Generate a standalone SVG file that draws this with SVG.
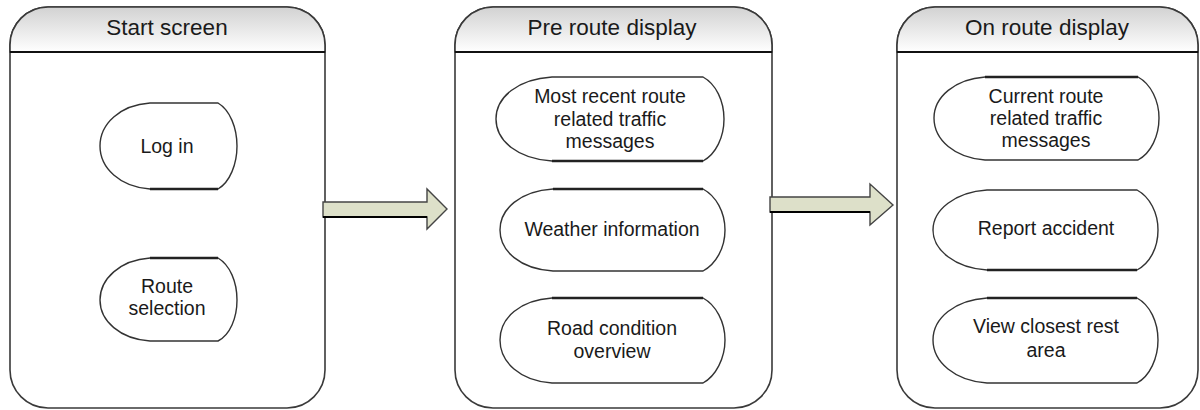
<svg xmlns="http://www.w3.org/2000/svg" width="1200" height="410" viewBox="0 0 1200 410">
<defs>
<linearGradient id="hdr" x1="0" y1="0" x2="0" y2="1">
<stop offset="0" stop-color="#d2d2d2"/>
<stop offset="1" stop-color="#ffffff"/>
</linearGradient>
</defs>
<style>
.panel{fill:#ffffff;stroke:#3a3a3a;stroke-width:1.6}
.hdr{fill:url(#hdr);stroke:#3a3a3a;stroke-width:1.6}
.hline{stroke:#111111;stroke-width:2.2}
.node{fill:#ffffff;stroke:#333333;stroke-width:1.4}
.flat{stroke:#222222;stroke-width:2.4}
.title{font-family:"Liberation Sans",Arial,sans-serif;font-size:22.5px;fill:#1a1a1a;text-anchor:middle}
.lbl{font-family:"Liberation Sans",Arial,sans-serif;font-size:19.5px;fill:#1a1a1a;text-anchor:middle}
.arrow{fill:#dde0c9;stroke:#444444;stroke-width:1.4;stroke-linejoin:miter}
</style>
<rect width="1200" height="410" fill="#ffffff"/>

<g id="start-screen">
<path class="panel" d="M10,45 A38,38 0 0 1 48,7 L287,7 A38,38 0 0 1 325,45 L325,370 A38,38 0 0 1 287,408 L48,408 A38,38 0 0 1 10,370 Z"/>
<path class="hdr" d="M10,52 L10,45 A38,38 0 0 1 48,7 L287,7 A38,38 0 0 1 325,45 L325,52 Z"/>
<line class="hline" x1="10" y1="52" x2="325" y2="52"/>
<text class="title" x="167" y="35">Start screen</text>
</g>

<g id="log-in">
<path class="node" d="M150,103 L218,103 C230,110 237,128 237,146 C237,164 230,182 218,189 L150,189 C120,187 100,168 100,146 C100,124 120,105 150,103 Z"/>
<line class="flat" x1="150" y1="189" x2="218" y2="189"/>
<text class="lbl" x="167" y="153">Log in</text>
</g>

<g id="route-selection">
<path class="node" d="M150,258 L218,258 C230,265 237,282 237,300 C237,318 230,335 218,341 L150,341 C120,339 100,321 100,300 C100,279 120,260 150,258 Z"/>
<line class="flat" x1="150" y1="258" x2="218" y2="258"/>
<text class="lbl" x="167" y="293">Route</text>
<text class="lbl" x="167" y="315">selection</text>
</g>

<g id="pre-route-display">
<path class="panel" d="M455,45 A38,38 0 0 1 493,7 L734,7 A38,38 0 0 1 772,45 L772,370 A38,38 0 0 1 734,408 L493,408 A38,38 0 0 1 455,370 Z"/>
<path class="hdr" d="M455,52 L455,45 A38,38 0 0 1 493,7 L734,7 A38,38 0 0 1 772,45 L772,52 Z"/>
<line class="hline" x1="455" y1="52" x2="772" y2="52"/>
<text class="title" x="612" y="35">Pre route display</text>
</g>

<g id="recent-traffic">
<path class="node" d="M552,77 L703,77 C716,84 724,101 724,119 C724,137 716,154 703,161 L552,161 C518,159 496,141 496,119 C496,97 518,79 552,77 Z"/>
<line class="flat" x1="552" y1="161" x2="703" y2="161"/>
<text class="lbl" x="610" y="103">Most recent route</text>
<text class="lbl" x="610" y="126">related traffic</text>
<text class="lbl" x="610" y="148">messages</text>
</g>

<g id="weather">
<path class="node" d="M553,189 L703,189 C716,196 725,212 725,230 C725,248 716,264 703,271 L553,271 C520,269 500,251 500,230 C500,209 520,191 553,189 Z"/>
<line class="flat" x1="553" y1="189" x2="703" y2="189"/>
<text class="lbl" x="612" y="236">Weather information</text>
</g>

<g id="road-condition">
<path class="node" d="M552,298 L703,298 C716,305 725,322 725,340 C725,358 716,376 703,383 L552,383 C520,381 500,362 500,340 C500,318 520,300 552,298 Z"/>
<line class="flat" x1="552" y1="298" x2="703" y2="298"/>
<text class="lbl" x="612" y="335">Road condition</text>
<text class="lbl" x="612" y="358">overview</text>
</g>

<g id="on-route-display">
<path class="panel" d="M897,45 A38,38 0 0 1 935,7 L1160,7 A38,38 0 0 1 1198,45 L1198,370 A38,38 0 0 1 1160,408 L935,408 A38,38 0 0 1 897,370 Z"/>
<path class="hdr" d="M897,52 L897,45 A38,38 0 0 1 935,7 L1160,7 A38,38 0 0 1 1198,45 L1198,52 Z"/>
<line class="hline" x1="897" y1="52" x2="1198" y2="52"/>
<text class="title" x="1047" y="35">On route display</text>
</g>

<g id="current-traffic">
<path class="node" d="M985,77 L1138,77 C1151,84 1159,101 1159,118 C1159,136 1151,153 1138,160 L985,160 C955,158 934,140 934,118 C934,97 955,79 985,77 Z"/>
<line class="flat" x1="985" y1="77" x2="1138" y2="77"/>
<text class="lbl" x="1046" y="103">Current route</text>
<text class="lbl" x="1046" y="125">related traffic</text>
<text class="lbl" x="1046" y="147">messages</text>
</g>

<g id="report-accident">
<path class="node" d="M987,190 L1137,190 C1150,197 1158,213 1158,230 C1158,248 1150,263 1137,270 L987,270 C955,268 933,250 933,230 C933,210 955,192 987,190 Z"/>
<line class="flat" x1="987" y1="270" x2="1137" y2="270"/>
<text class="lbl" x="1046" y="235">Report accident</text>
</g>

<g id="rest-area">
<path class="node" d="M987,298 L1137,298 C1150,305 1158,322 1158,340 C1158,358 1150,376 1137,383 L987,383 C955,381 933,362 933,340 C933,318 955,300 987,298 Z"/>
<line class="flat" x1="987" y1="298" x2="1137" y2="298"/>
<text class="lbl" x="1046" y="333">View closest rest</text>
<text class="lbl" x="1046" y="357">area</text>
</g>

<g id="connectors">
<path class="arrow" d="M323,202 L427,202 L427,189 L447,209 L427,229 L427,217 L323,217 Z"/>
<line x1="323" y1="217" x2="427" y2="217" stroke="#000000" stroke-width="2"/>
<path class="arrow" d="M770,197 L870,197 L870,184 L893,205 L870,225 L870,212 L770,212 Z"/>
<line x1="770" y1="212" x2="870" y2="212" stroke="#000000" stroke-width="2"/>
</g>
</svg>
